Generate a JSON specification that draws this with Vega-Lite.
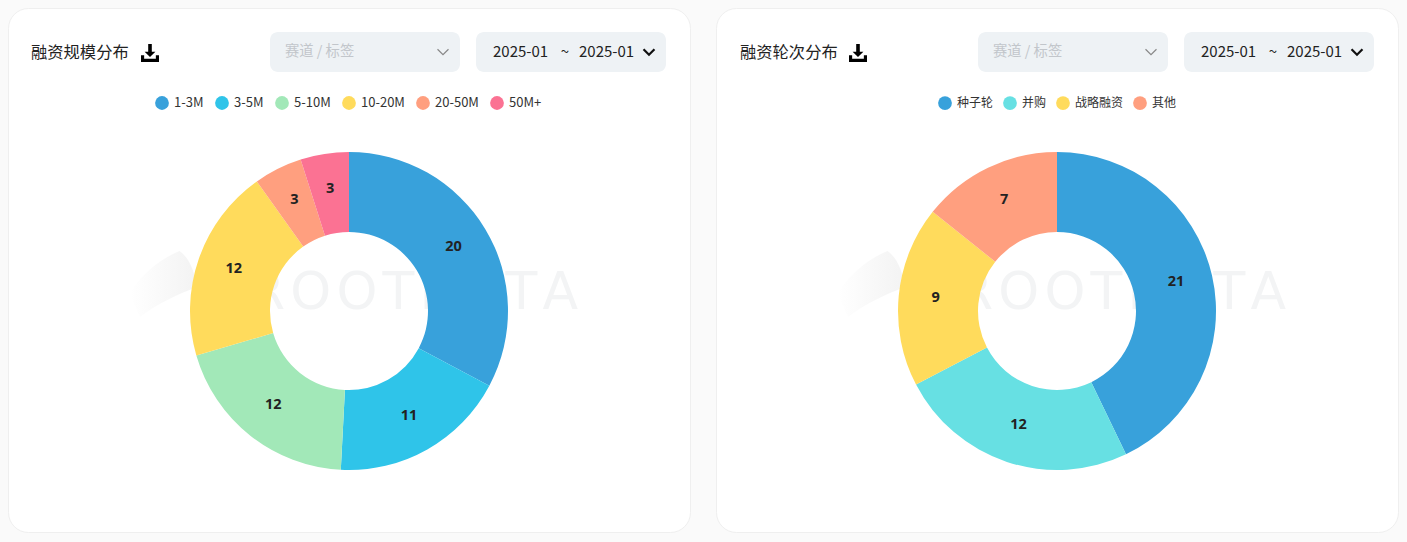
{"$schema":"https://vega.github.io/schema/vega-lite/v6.json","background":"#fafafa","padding":{"left":7,"top":7,"right":9,"bottom":10},"autosize":{"type":"pad"},"config":{"view":{"stroke":"#efefef","fill":"#ffffff","cornerRadius":20},"text":{"font":"Noto Sans CJK SC"},"legend":{"labelFont":"Noto Sans CJK SC"}},"spacing":24,"resolve":{"scale":{"color":"independent","theta":"independent"},"legend":{"color":"independent"}},"hconcat":[{"width":682,"height":524,"layer":[{"data":{"values":[{"t":"R\u200aO\u200aO\u200aT\u200aD\u200aA\u200aT\u200aA"}]},"mark":{"type":"text","x":570,"y":285,"align":"right","baseline":"middle","fontSize":52,"font":"DejaVu Sans","fontWeight":400,"color":"#f3f4f5"},"encoding":{"text":{"field":"t"}}},{"data":{"values":[{"t":"logo"}]},"mark":{"type":"point","x":155,"y":276,"size":4356,"filled":true,"opacity":1,"fill":{"gradient":"linear","x1":0,"y1":0,"x2":1,"y2":0,"stops":[{"offset":0,"color":"#ffffff"},{"offset":1,"color":"#f3f3f3"}]},"shape":"M-1,0.3 C-0.7,-0.3 0,-0.8 0.5,-1 C0.8,-0.8 1,-0.3 1,0.1 C0.5,0.3 -0.2,0.6 -0.7,1 Z"},"encoding":{"detail":{"field":"t"}}},{"data":{"values":[{"name":"1-3M","value":20,"idx":1},{"name":"3-5M","value":11,"idx":2},{"name":"5-10M","value":12,"idx":3},{"name":"10-20M","value":12,"idx":4},{"name":"20-50M","value":3,"idx":5},{"name":"50M+","value":3,"idx":6}]},"layer":[{"mark":{"type":"arc","innerRadius":79,"outerRadius":159},"encoding":{"theta":{"field":"value","type":"quantitative","stack":true},"order":{"field":"idx"},"y":{"value":303},"color":{"field":"name","type":"nominal","scale":{"domain":["1-3M","3-5M","5-10M","10-20M","20-50M","50M+"],"range":["#38a1db","#2fc4e9","#a2e8b8","#ffdb5c","#ff9f7f","#fb7293"]},"legend":{"title":null,"orient":"none","legendX":147,"legendY":88,"direction":"horizontal","symbolType":"circle","symbolSize":190,"symbolStrokeWidth":0,"labelFontSize":13,"labelColor":"#333333","columnPadding":11,"symbolOffset":0,"labelOffset":5}}}},{"mark":{"type":"text","radius":122,"fontSize":14.5,"font":"Open Sans","fontWeight":700,"color":"#222222"},"encoding":{"theta":{"field":"value","type":"quantitative","stack":true},"order":{"field":"idx"},"y":{"value":301.5},"text":{"field":"value","type":"quantitative"}}}]},{"data":{"values":[{"t":"融资规模分布"}]},"mark":{"type":"text","x":23,"y":45,"align":"left","baseline":"middle","fontSize":16.3,"color":"#222222"},"encoding":{"text":{"field":"t"}}},{"data":{"values":[{"t":"下载"}]},"mark":{"type":"point","x":142,"y":45,"size":324,"filled":true,"opacity":1,"color":"#000000","shape":"M-0.2,-1 H0.2 V-0.15 H0.6 L0,0.45 L-0.6,-0.15 H-0.2 Z M-1,0.25 H-0.65 V0.65 H0.65 V0.25 H1 V1 H-1 Z"},"encoding":{"detail":{"field":"t"}}},{"data":{"values":[{"t":"赛道"}]},"mark":{"type":"rect","x":262,"x2":452,"y":24,"y2":64,"cornerRadius":8,"color":"#eef2f5"},"encoding":{"detail":{"field":"t"}}},{"data":{"values":[{"t":"日期"}]},"mark":{"type":"rect","x":468,"x2":658,"y":24,"y2":64,"cornerRadius":8,"color":"#eef2f5"},"encoding":{"detail":{"field":"t"}}},{"data":{"values":[{"t":"赛道 / 标签"}]},"mark":{"type":"text","x":277,"y":44,"align":"left","baseline":"middle","fontSize":14.3,"color":"#c2c6cb"},"encoding":{"text":{"field":"t"}}},{"data":{"values":[{"t":"2025-01"}]},"mark":{"type":"text","x":485,"y":44,"align":"left","baseline":"middle","fontSize":15,"color":"#222222"},"encoding":{"text":{"field":"t"}}},{"data":{"values":[{"t":"~"}]},"mark":{"type":"text","x":557,"y":44,"align":"center","baseline":"middle","fontSize":15,"color":"#222222"},"encoding":{"text":{"field":"t"}}},{"data":{"values":[{"t":"2025-01"}]},"mark":{"type":"text","x":571,"y":44,"align":"left","baseline":"middle","fontSize":15,"color":"#222222"},"encoding":{"text":{"field":"t"}}},{"data":{"values":[{"t":"a"}]},"mark":{"type":"point","x":435,"y":44,"size":120,"filled":false,"opacity":1,"color":"#888888","strokeWidth":1.2,"shape":"M-1,-0.5 L0,0.5 L1,-0.5"},"encoding":{"detail":{"field":"t"}}},{"data":{"values":[{"t":"b"}]},"mark":{"type":"point","x":641,"y":44,"size":120,"filled":false,"opacity":1,"color":"#111111","strokeWidth":2.2,"shape":"M-1,-0.5 L0,0.5 L1,-0.5"},"encoding":{"detail":{"field":"t"}}}]},{"width":682,"height":524,"layer":[{"data":{"values":[{"t":"R\u200aO\u200aO\u200aT\u200aD\u200aA\u200aT\u200aA"}]},"mark":{"type":"text","x":570,"y":285,"align":"right","baseline":"middle","fontSize":52,"font":"DejaVu Sans","fontWeight":400,"color":"#f3f4f5"},"encoding":{"text":{"field":"t"}}},{"data":{"values":[{"t":"logo"}]},"mark":{"type":"point","x":155,"y":276,"size":4356,"filled":true,"opacity":1,"fill":{"gradient":"linear","x1":0,"y1":0,"x2":1,"y2":0,"stops":[{"offset":0,"color":"#ffffff"},{"offset":1,"color":"#f3f3f3"}]},"shape":"M-1,0.3 C-0.7,-0.3 0,-0.8 0.5,-1 C0.8,-0.8 1,-0.3 1,0.1 C0.5,0.3 -0.2,0.6 -0.7,1 Z"},"encoding":{"detail":{"field":"t"}}},{"data":{"values":[{"name":"种子轮","value":21,"idx":1},{"name":"并购","value":12,"idx":2},{"name":"战略融资","value":9,"idx":3},{"name":"其他","value":7,"idx":4}]},"layer":[{"mark":{"type":"arc","innerRadius":79,"outerRadius":159},"encoding":{"theta":{"field":"value","type":"quantitative","stack":true},"order":{"field":"idx"},"y":{"value":303},"color":{"field":"name","type":"nominal","scale":{"domain":["种子轮","并购","战略融资","其他"],"range":["#38a1db","#67e0e3","#ffdb5c","#ff9f7f"]},"legend":{"title":null,"orient":"none","legendX":222,"legendY":88,"direction":"horizontal","symbolType":"circle","symbolSize":190,"symbolStrokeWidth":0,"labelFontSize":12,"labelColor":"#333333","columnPadding":9,"symbolOffset":0,"labelOffset":5}}}},{"mark":{"type":"text","radius":122,"fontSize":14.5,"font":"Open Sans","fontWeight":700,"color":"#222222"},"encoding":{"theta":{"field":"value","type":"quantitative","stack":true},"order":{"field":"idx"},"y":{"value":301.5},"text":{"field":"value","type":"quantitative"}}}]},{"data":{"values":[{"t":"融资轮次分布"}]},"mark":{"type":"text","x":24,"y":45,"align":"left","baseline":"middle","fontSize":16.3,"color":"#222222"},"encoding":{"text":{"field":"t"}}},{"data":{"values":[{"t":"下载"}]},"mark":{"type":"point","x":142,"y":45,"size":324,"filled":true,"opacity":1,"color":"#000000","shape":"M-0.2,-1 H0.2 V-0.15 H0.6 L0,0.45 L-0.6,-0.15 H-0.2 Z M-1,0.25 H-0.65 V0.65 H0.65 V0.25 H1 V1 H-1 Z"},"encoding":{"detail":{"field":"t"}}},{"data":{"values":[{"t":"赛道"}]},"mark":{"type":"rect","x":262,"x2":452,"y":24,"y2":64,"cornerRadius":8,"color":"#eef2f5"},"encoding":{"detail":{"field":"t"}}},{"data":{"values":[{"t":"日期"}]},"mark":{"type":"rect","x":468,"x2":658,"y":24,"y2":64,"cornerRadius":8,"color":"#eef2f5"},"encoding":{"detail":{"field":"t"}}},{"data":{"values":[{"t":"赛道 / 标签"}]},"mark":{"type":"text","x":277,"y":44,"align":"left","baseline":"middle","fontSize":14.3,"color":"#c2c6cb"},"encoding":{"text":{"field":"t"}}},{"data":{"values":[{"t":"2025-01"}]},"mark":{"type":"text","x":485,"y":44,"align":"left","baseline":"middle","fontSize":15,"color":"#222222"},"encoding":{"text":{"field":"t"}}},{"data":{"values":[{"t":"~"}]},"mark":{"type":"text","x":557,"y":44,"align":"center","baseline":"middle","fontSize":15,"color":"#222222"},"encoding":{"text":{"field":"t"}}},{"data":{"values":[{"t":"2025-01"}]},"mark":{"type":"text","x":571,"y":44,"align":"left","baseline":"middle","fontSize":15,"color":"#222222"},"encoding":{"text":{"field":"t"}}},{"data":{"values":[{"t":"a"}]},"mark":{"type":"point","x":435,"y":44,"size":120,"filled":false,"opacity":1,"color":"#888888","strokeWidth":1.2,"shape":"M-1,-0.5 L0,0.5 L1,-0.5"},"encoding":{"detail":{"field":"t"}}},{"data":{"values":[{"t":"b"}]},"mark":{"type":"point","x":641,"y":44,"size":120,"filled":false,"opacity":1,"color":"#111111","strokeWidth":2.2,"shape":"M-1,-0.5 L0,0.5 L1,-0.5"},"encoding":{"detail":{"field":"t"}}}]}]}
